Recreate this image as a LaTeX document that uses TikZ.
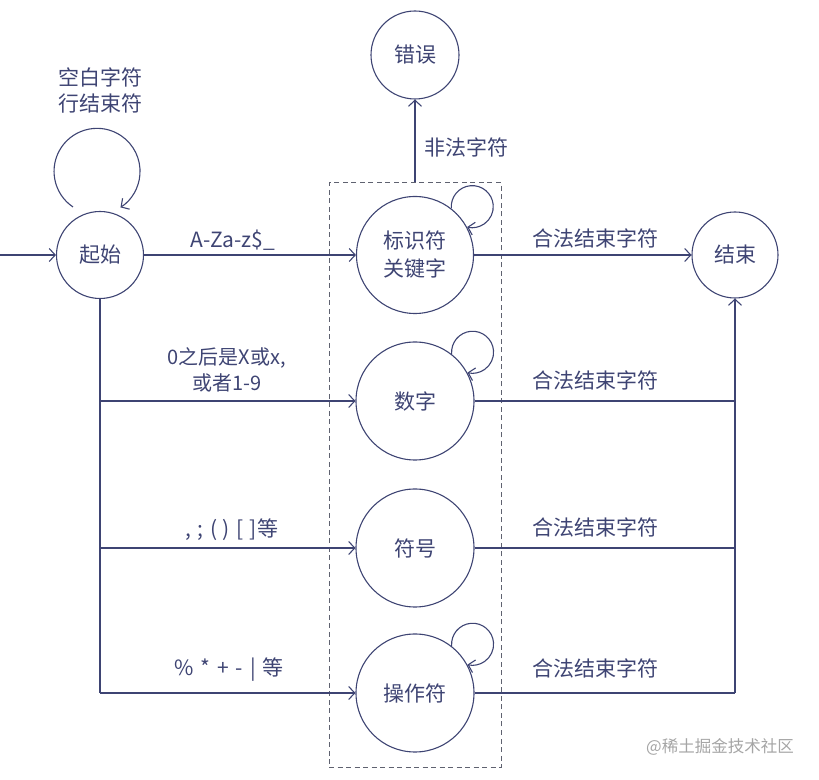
\documentclass[tikz,border=0pt]{standalone}
\usepackage{fontspec}
\newfontfamily\cjk{Noto Sans CJK SC}
\usetikzlibrary{arrows.meta}
\definecolor{ink}{RGB}{62,68,115}
\definecolor{boxgray}{RGB}{95,98,112}
\definecolor{wm}{RGB}{165,165,165}
\tikzset{
  state/.style={circle, draw=ink, line width=1.1pt, inner sep=0pt, text=ink,
    font=\cjk\fontsize{21}{28}\selectfont, align=center},
  lbl/.style={text=ink, font=\cjk\fontsize{21}{26}\selectfont, align=center, inner sep=0pt},
  conn/.style={draw=ink, line width=1.1pt},
  arr/.style={conn, -{Straight Barb[length=6pt,width=13pt]}},
}
\begin{document}
\begin{tikzpicture}[x=1pt, y=1pt]
\useasboundingbox (0,0) rectangle (819,779);
% states
\node[state, minimum size=87pt] (S) at (100,524) {起始};
\node[state, minimum size=117pt] (I) at (415,524) {标识符\\关键字};
\node[state, minimum size=86pt] (E) at (735,524) {结束};
\node[state, minimum size=88pt] (R) at (415,724) {错误};
\node[state, minimum size=118pt] (N) at (415,378) {数字};
\node[state, minimum size=118pt] (Y) at (415,231) {符号};
\node[state, minimum size=118pt] (O) at (415,86) {操作符};
\node[draw=boxgray, dash pattern=on 5pt off 3.5pt, line width=1pt,
      minimum width=172pt, minimum height=584pt, inner sep=0pt] (box) at (415,304) {};
% helper coordinates
\coordinate (in) at (0,524);
\coordinate (b2) at (100,378);
\coordinate (b3) at (100,231);
\coordinate (b4) at (100,86);
\coordinate (e2) at (735,378);
\coordinate (e3) at (735,231);
\coordinate (e4) at (735,86);
% connectors
\draw[arr] (in) -- (S);
\draw[arr] (S) -- (I);
\draw[arr] (I) -- (E);
\draw[arr] (box.north) -- (R);
\draw[conn] (S) -- (b4);
\draw[arr] (b2) -- (N);
\draw[arr] (b3) -- (Y);
\draw[arr] (b4) -- (O);
\draw[conn] (N) -- (e2);
\draw[conn] (Y) -- (e3);
\draw[conn] (O) -- (e4);
\draw[arr] (e4) -- (E);
% self loops
\draw[arr] ([shift={(-27,48)}]S.center) arc[start angle=236, end angle=-57, radius=43pt];
\draw[arr] (I.52) arc[start angle=185, end angle=-104, radius=21pt];
\draw[arr] (N.52) arc[start angle=185, end angle=-104, radius=21pt];
\draw[arr] (O.52) arc[start angle=185, end angle=-104, radius=21pt];
% labels
\node[lbl] (lloop) at (100,689) {空白字符\\行结束符};
\node[lbl] (lid) at (233,539) {A-Za-z\$\_};
\node[lbl] (lerr) at (466,632) {非法字符};
\node[lbl] (lok1) at (595,541) {合法结束字符};
\node[lbl] (lok2) at (595,399) {合法结束字符};
\node[lbl] (lok3) at (595,252) {合法结束字符};
\node[lbl] (lok4) at (595,111) {合法结束字符};
\node[lbl, font=\cjk\fontsize{20}{26}\selectfont] (lnum) at (227,409) {0之后是X或x,\\ 或者1-9};
\node[lbl] (lsym) at (232,249) {,\hspace{6pt};\hspace{7pt}(\hspace{5pt})\hspace{7pt}[\hspace{6pt}]等};
\node[lbl] (lop) at (229,109) {\%\hspace{7pt}*\hspace{7pt}+\hspace{7pt}-\hspace{7pt}|\hspace{7pt}等};
\node[text=wm, font=\cjk\fontsize{16.5}{18}\selectfont, inner sep=0pt] (wmk) at (720,32) {@稀土掘金技术社区};
\end{tikzpicture}
\end{document}
